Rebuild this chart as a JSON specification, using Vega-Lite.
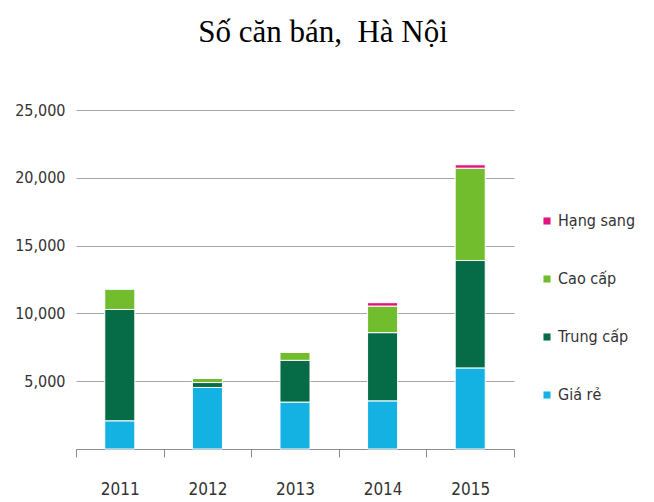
{
  "$schema": "https://vega.github.io/schema/vega-lite/v6.json",
  "autosize": "none",
  "width": 438,
  "height": 339,
  "padding": {"left": 76, "top": 110, "right": 140, "bottom": 53},
  "background": "white",
  "title": {
    "text": "Số căn bán,\u00a0 Hà Nội",
    "font": "Liberation Serif",
    "fontSize": 31,
    "fontWeight": "normal",
    "color": "#000000",
    "anchor": "middle",
    "baseline": "alphabetic",
    "offset": 29,
    "dx": 28
  },
  "data": {
    "values": [
      {"year": "2011", "segment": "Giá rẻ", "order": 1, "value": 2080},
      {"year": "2011", "segment": "Trung cấp", "order": 2, "value": 8210},
      {"year": "2011", "segment": "Cao cấp", "order": 3, "value": 1510},
      {"year": "2011", "segment": "Hạng sang", "order": 4, "value": 0},
      {"year": "2012", "segment": "Giá rẻ", "order": 1, "value": 4540},
      {"year": "2012", "segment": "Trung cấp", "order": 2, "value": 360},
      {"year": "2012", "segment": "Cao cấp", "order": 3, "value": 300},
      {"year": "2012", "segment": "Hạng sang", "order": 4, "value": 0},
      {"year": "2013", "segment": "Giá rẻ", "order": 1, "value": 3460},
      {"year": "2013", "segment": "Trung cấp", "order": 2, "value": 3080},
      {"year": "2013", "segment": "Cao cấp", "order": 3, "value": 590},
      {"year": "2013", "segment": "Hạng sang", "order": 4, "value": 0},
      {"year": "2014", "segment": "Giá rẻ", "order": 1, "value": 3550},
      {"year": "2014", "segment": "Trung cấp", "order": 2, "value": 5030},
      {"year": "2014", "segment": "Cao cấp", "order": 3, "value": 1960},
      {"year": "2014", "segment": "Hạng sang", "order": 4, "value": 250},
      {"year": "2015", "segment": "Giá rẻ", "order": 1, "value": 5980},
      {"year": "2015", "segment": "Trung cấp", "order": 2, "value": 7920},
      {"year": "2015", "segment": "Cao cấp", "order": 3, "value": 6810},
      {"year": "2015", "segment": "Hạng sang", "order": 4, "value": 250}
    ]
  },
  "mark": {"type": "bar", "width": {"band": 0.343}, "stroke": "white", "strokeWidth": 1},
  "encoding": {
    "x": {
      "field": "year",
      "type": "ordinal",
      "scale": {"paddingInner": 0, "paddingOuter": 0},
      "axis": {
        "title": null,
        "labelAngle": 0,
        "labelFont": "DejaVu Sans Condensed",
        "labelFontSize": 17,
        "labelColor": "#333333",
        "labelPadding": 24,
        "domainColor": "#8c8c8c",
        "tickColor": "#8c8c8c",
        "tickSize": 8,
        "tickBand": "extent",
        "grid": false
      }
    },
    "y": {
      "field": "value",
      "type": "quantitative",
      "stack": "zero",
      "scale": {"domain": [0, 25000]},
      "axis": {
        "title": null,
        "values": [5000, 10000, 15000, 20000, 25000],
        "format": ",d",
        "labelFont": "DejaVu Sans Condensed",
        "labelFontSize": 16,
        "labelColor": "#333333",
        "labelPadding": 11,
        "domain": false,
        "ticks": false,
        "grid": true,
        "gridColor": "#a6a6a6",
        "gridWidth": 1
      }
    },
    "color": {
      "field": "segment",
      "type": "nominal",
      "scale": {
        "domain": ["Hạng sang", "Cao cấp", "Trung cấp", "Giá rẻ"],
        "range": ["#e0137f", "#72bd2d", "#066b47", "#13b2e3"]
      },
      "legend": {
        "title": null,
        "orient": "none",
        "legendX": 463,
        "legendY": 103,
        "symbolType": "square",
        "symbolSize": 50,
        "symbolStrokeWidth": 0,
        "labelFont": "DejaVu Sans Condensed",
        "labelFontSize": 16,
        "labelColor": "#333333",
        "labelOffset": 3,
        "rowPadding": 42
      }
    },
    "order": {"field": "order", "type": "quantitative", "sort": "ascending"}
  },
  "config": {"view": {"stroke": null}}
}
